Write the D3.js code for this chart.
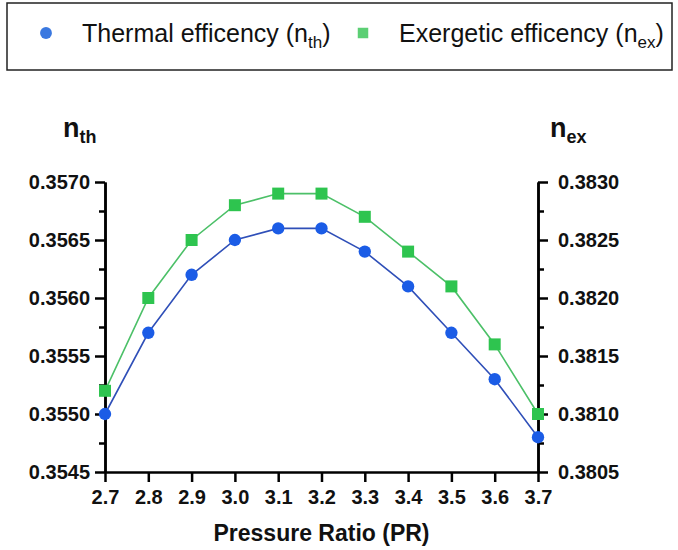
<!DOCTYPE html>
<html>
<head>
<meta charset="utf-8">
<script src="https://cdn.jsdelivr.net/npm/d3@7"></script>
<style>
  body { margin: 0; background: #fff; }
  text { font-family: "Liberation Sans", Arial, sans-serif; }
</style>
</head>
<body>
<script>
  const pressureRatio = [2.7, 2.8, 2.9, 3.0, 3.1, 3.2, 3.3, 3.4, 3.5, 3.6, 3.7];
  const thermal = [0.3550, 0.3557, 0.3562, 0.3565, 0.3566, 0.3566, 0.3564, 0.3561, 0.3557, 0.3553, 0.3548];
  const exergetic = [0.3812, 0.3820, 0.3825, 0.3828, 0.3829, 0.3829, 0.3827, 0.3824, 0.3821, 0.3816, 0.3810];
  const leftTicks = [0.3545, 0.3550, 0.3555, 0.3560, 0.3565, 0.3570];
  const rightTicks = [0.3805, 0.3810, 0.3815, 0.3820, 0.3825, 0.3830];

  const width = 678;
  const height = 550;
  const margin = { top: 182, right: 140, bottom: 78, left: 105 };

  const svg = d3.select('body')
          .append('svg')
          .attr('width', width)
          .attr('height', height);

  const x = d3.scaleLinear()
          .domain([2.7, 3.7])
          .range([margin.left, width - margin.right]);

  const yLeft = d3.scaleLinear()
          .domain([0.3545, 0.3570])
          .range([height - margin.bottom, margin.top]);

  const yRight = d3.scaleLinear()
          .domain([0.3805, 0.3830])
          .range([height - margin.bottom, margin.top]);

  // minor ticks halfway between the labelled ones
  const minorOf = ticks => ticks.slice(0, -1).map((t, i) => (t + ticks[i + 1]) / 2);

  const styleAxis = g => {
    g.select('.domain').attr('stroke', '#000').attr('stroke-width', 2.5);
    g.selectAll('.tick line').attr('stroke', '#000').attr('stroke-width', 2.5);
    g.selectAll('.tick text')
            .attr('font-size', '20px')
            .attr('font-weight', 'bold')
            .attr('fill', '#111');
  };

  // x axis
  svg.append('g')
          .attr('transform', `translate(0,${height - margin.bottom})`)
          .call(d3.axisBottom(x).tickValues(pressureRatio).tickFormat(d3.format('.1f'))
                  .tickSize(10).tickSizeOuter(0).tickPadding(8))
          .call(styleAxis);

  // left axis
  svg.append('g')
          .attr('transform', `translate(${margin.left},0)`)
          .call(d3.axisLeft(yLeft).tickValues(minorOf(leftTicks)).tickFormat('').tickSize(6).tickSizeOuter(0))
          .call(styleAxis);
  svg.append('g')
          .attr('transform', `translate(${margin.left},0)`)
          .call(d3.axisLeft(yLeft).tickValues(leftTicks).tickFormat(d3.format('.4f'))
                  .tickSize(10).tickSizeOuter(0).tickPadding(5))
          .call(styleAxis);

  // right axis
  svg.append('g')
          .attr('transform', `translate(${width - margin.right},0)`)
          .call(d3.axisRight(yRight).tickValues(minorOf(rightTicks)).tickFormat('').tickSize(6).tickSizeOuter(0))
          .call(styleAxis);
  svg.append('g')
          .attr('transform', `translate(${width - margin.right},0)`)
          .call(d3.axisRight(yRight).tickValues(rightTicks).tickFormat(d3.format('.4f'))
                  .tickSize(10).tickSizeOuter(0).tickPadding(10))
          .call(styleAxis);

  // axis titles
  svg.append('text')
          .attr('x', (margin.left + width - margin.right) / 2)
          .attr('y', 541)
          .attr('text-anchor', 'middle')
          .attr('font-size', '23px')
          .attr('font-weight', 'bold')
          .attr('fill', '#111')
          .text('Pressure Ratio (PR)');

  const subTitle = (xPos, main, sub) => {
    const t = svg.append('text')
            .attr('x', xPos)
            .attr('y', 137)
            .attr('font-weight', 'bold')
            .attr('fill', '#111');
    t.append('tspan').attr('font-size', '27px').text(main);
    t.append('tspan').attr('font-size', '18px').attr('dy', 6).text(sub);
  };
  subTitle(63, 'n', 'th');
  subTitle(550, 'n', 'ex');

  // lines and markers
  const series = [
    { values: thermal, y: yLeft, line: '#2f4fb8', fill: '#1b5ce6', shape: 'circle' },
    { values: exergetic, y: yRight, line: '#4cc068', fill: '#2ec44f', shape: 'square' }
  ];

  series.forEach(s => {
    const pts = pressureRatio.map((p, i) => [p, s.values[i]]);
    svg.append('path')
            .datum(pts)
            .attr('fill', 'none')
            .attr('stroke', s.line)
            .attr('stroke-width', 1.6)
            .attr('d', d3.line().x(d => x(d[0])).y(d => s.y(d[1])));

    const sym = s.shape === 'circle' ? d3.symbolCircle : d3.symbolSquare;
    svg.append('g')
            .selectAll('path')
            .data(pts)
            .enter()
            .append('path')
            .attr('transform', d => `translate(${x(d[0])},${s.y(d[1])})`)
            .attr('d', d3.symbol().type(sym).size(s.shape === 'circle' ? 120 : 144))
            .attr('fill', s.fill);
  });

  // legend
  svg.append('rect')
          .attr('x', 7)
          .attr('y', 3)
          .attr('width', 665)
          .attr('height', 67)
          .attr('fill', 'none')
          .attr('stroke', '#222')
          .attr('stroke-width', 1.5);

  const legendItems = [
    { cx: 46, tx: 82, label: 'Thermal efficency (n', sub: 'th', fill: '#3a78e0', shape: 'circle' },
    { cx: 363, tx: 399, label: 'Exergetic efficency (n', sub: 'ex', fill: '#5ccf74', shape: 'square' }
  ];

  legendItems.forEach(d => {
    const sym = d.shape === 'circle' ? d3.symbolCircle : d3.symbolSquare;
    svg.append('path')
            .attr('transform', `translate(${d.cx},33)`)
            .attr('d', d3.symbol().type(sym).size(110))
            .attr('fill', d.fill);
    const t = svg.append('text')
            .attr('x', d.tx)
            .attr('y', 42)
            .attr('font-size', '25px')
            .attr('fill', '#111');
    t.append('tspan').text(d.label);
    t.append('tspan').attr('font-size', '17px').attr('dy', 6).text(d.sub);
    t.append('tspan').attr('dy', -6).text(')');
  });
</script>
</body>
</html>
